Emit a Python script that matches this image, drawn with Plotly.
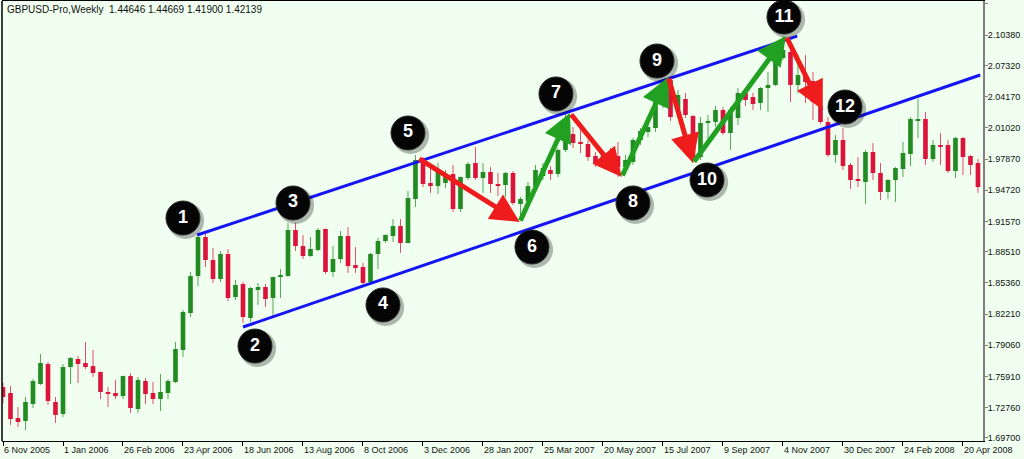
import plotly.graph_objects as go

# ---------------- data (weekly GBPUSD, week index 0 = 6 Nov 2005) ----------------
week = list(range(131))

open_ = [1.7484, 1.7424, 1.7171, 1.7141, 1.7313, 1.7515, 1.7717, 1.7333, 1.7212, 1.7686,
         1.7767, 1.7727, 1.7696, 1.7636, 1.7434, 1.7424, 1.7393, 1.7595, 1.7262, 1.7545,
         1.7424, 1.7363, 1.7424, 1.7535, 1.7858, 1.8232, 1.8605, 1.8999, 1.8767, 1.8575,
         1.8828, 1.8393, 1.8525, 1.8181, 1.8464, 1.8494, 1.8383, 1.8595, 1.8605, 1.9070,
         1.8908, 1.8807, 1.8868, 1.9080, 1.8646, 1.8777, 1.9009, 1.8716, 1.8696, 1.8545,
         1.8828, 1.8959, 1.9009, 1.9110, 1.8939, 1.9383, 1.9777, 1.9545, 1.9514, 1.9545,
         1.9636, 1.9282, 1.9595, 1.9747, 1.9595, 1.9656, 1.9535, 1.9525, 1.9646, 1.9333,
         1.9363, 1.9514, 1.9615, 1.9676, 1.9636, 1.9878, 2.0040, 1.9959, 1.9939, 1.9817,
         1.9747, 1.9828, 1.9817, 1.9706, 1.9757, 1.9979, 2.0060, 2.0100, 2.0343, 2.0585,
         2.0282, 2.0393, 2.0221, 1.9807, 2.0151, 2.0161, 2.0282, 2.0050, 2.0201, 2.0454,
         2.0413, 2.0353, 2.0504, 2.0535, 2.0807, 2.0868, 2.0535, 2.0636, 2.0575, 2.0322,
         2.0161, 1.9828, 1.9979, 1.9727, 1.9585, 1.9555, 1.9858, 1.9646, 1.9454, 1.9575,
         1.9686, 1.9838, 2.0181, 2.0191, 1.9787, 1.9929, 1.9929, 1.9666, 1.9999, 1.9817,
         1.9747]

high = [1.7525, 1.7494, 1.7282, 1.7383, 1.7565, 1.7818, 1.7737, 1.7383, 1.7717, 1.7787,
        1.7797, 1.7939, 1.7858, 1.7640, 1.7484, 1.7555, 1.7600, 1.7626, 1.7585, 1.7575,
        1.7535, 1.7616, 1.7565, 1.7939, 1.8262, 1.8646, 1.9020, 1.9030, 1.8888, 1.8858,
        1.8878, 1.8565, 1.8545, 1.8494, 1.8535, 1.8525, 1.8600, 1.8676, 1.9141, 1.9141,
        1.9020, 1.8999, 1.9090, 1.9085, 1.8908, 1.9060, 1.9100, 1.8898, 1.8737, 1.8838,
        1.8989, 1.9025, 1.9181, 1.9181, 1.9464, 1.9828, 1.9807, 1.9727, 1.9747, 1.9676,
        1.9727, 1.9610, 1.9757, 1.9908, 1.9747, 1.9706, 1.9646, 1.9656, 1.9666, 1.9403,
        1.9555, 1.9727, 1.9747, 1.9716, 1.9898, 2.0240, 2.0110, 2.0080, 1.9979, 1.9858,
        1.9848, 1.9898, 1.9959, 1.9828, 1.9999, 2.0100, 2.0161, 2.0413, 2.0565, 2.0625,
        2.0484, 2.0454, 2.0232, 2.0211, 2.0232, 2.0322, 2.0312, 2.0312, 2.0504, 2.0504,
        2.0454, 2.0514, 2.0666, 2.0837, 2.1029, 2.0888, 2.0837, 2.0837, 2.0666, 2.0343,
        2.0211, 2.0030, 2.0100, 1.9747, 1.9807, 1.9878, 1.9949, 1.9747, 1.9585, 1.9706,
        1.9959, 2.0211, 2.0393, 2.0262, 1.9979, 2.0050, 1.9979, 2.0009, 2.0009, 1.9828,
        1.9787]

low = [1.7323, 1.7101, 1.7080, 1.7050, 1.7272, 1.7505, 1.7303, 1.7121, 1.7181, 1.7515,
       1.7525, 1.7666, 1.7585, 1.7363, 1.7282, 1.7363, 1.7363, 1.7222, 1.7222, 1.7313,
       1.7313, 1.7242, 1.7363, 1.7525, 1.7787, 1.8191, 1.8504, 1.8696, 1.8535, 1.8545,
       1.8353, 1.8363, 1.8131, 1.8141, 1.8313, 1.8292, 1.8191, 1.8383, 1.8600, 1.8858,
       1.8777, 1.8800, 1.8858, 1.8626, 1.8595, 1.8737, 1.8636, 1.8636, 1.8515, 1.8525,
       1.8676, 1.8939, 1.8949, 1.8838, 1.8935, 1.9302, 1.9504, 1.9444, 1.9434, 1.9494,
       1.9252, 1.9252, 1.9575, 1.9575, 1.9444, 1.9444, 1.9413, 1.9403, 1.9323, 1.9161,
       1.9323, 1.9474, 1.9575, 1.9575, 1.9605, 1.9858, 1.9898, 1.9848, 1.9767, 1.9706,
       1.9706, 1.9716, 1.9605, 1.9656, 1.9727, 1.9929, 2.0009, 2.0060, 2.0302, 2.0171,
       2.0232, 2.0201, 1.9747, 1.9777, 1.9979, 2.0110, 2.0030, 1.9878, 2.0131, 2.0322,
       2.0282, 2.0282, 2.0262, 2.0525, 2.0787, 2.0363, 2.0454, 2.0353, 2.0181, 2.0141,
       1.9807, 1.9747, 1.9676, 1.9484, 1.9504, 1.9333, 1.9575, 1.9373, 1.9383, 1.9353,
       1.9605, 1.9716, 1.9999, 1.9727, 1.9757, 1.9727, 1.9646, 1.9595, 1.9625, 1.9625,
       1.9444]

close = [1.7383, 1.7161, 1.7131, 1.7333, 1.7545, 1.7727, 1.7343, 1.7202, 1.7686, 1.7777,
         1.7717, 1.7686, 1.7626, 1.7434, 1.7414, 1.7393, 1.7595, 1.7272, 1.7555, 1.7414,
         1.7363, 1.7434, 1.7545, 1.7868, 1.8242, 1.8605, 1.8999, 1.8767, 1.8575, 1.8828,
         1.8383, 1.8515, 1.8191, 1.8484, 1.8494, 1.8373, 1.8595, 1.8616, 1.9070, 1.8908,
         1.8807, 1.8878, 1.9070, 1.8646, 1.8777, 1.9009, 1.8706, 1.8696, 1.8535, 1.8828,
         1.8959, 1.9020, 1.9110, 1.8939, 1.9393, 1.9777, 1.9535, 1.9514, 1.9656, 1.9605,
         1.9282, 1.9605, 1.9737, 1.9595, 1.9656, 1.9535, 1.9514, 1.9646, 1.9343, 1.9383,
         1.9514, 1.9676, 1.9696, 1.9636, 1.9878, 2.0050, 1.9949, 1.9939, 1.9807, 1.9747,
         1.9828, 1.9807, 1.9706, 1.9777, 1.9979, 2.0070, 2.0110, 2.0383, 2.0535, 2.0211,
         2.0434, 2.0232, 1.9807, 2.0151, 2.0171, 2.0282, 2.0050, 2.0282, 2.0454, 2.0383,
         2.0343, 2.0504, 2.0535, 2.0807, 2.0888, 2.0535, 2.0636, 2.0565, 2.0363, 2.0161,
         1.9828, 1.9979, 1.9716, 1.9575, 1.9565, 1.9858, 1.9646, 1.9454, 1.9575, 1.9696,
         1.9848, 2.0191, 2.0191, 1.9787, 1.9929, 1.9919, 1.9666, 1.9999, 1.9807, 1.9727,
         1.9504]

# x-axis tick labels (every 8 weeks)
tick_weeks = [0, 8, 16, 24, 32, 40, 48, 56, 64, 72, 80, 88, 96, 104, 112, 120, 128]
tick_text = ["6 Nov 2005", "1 Jan 2006", "26 Feb 2006", "23 Apr 2006", "18 Jun 2006",
             "13 Aug 2006", "8 Oct 2006", "3 Dec 2006", "28 Jan 2007", "25 Mar 2007",
             "20 May 2007", "15 Jul 2007", "9 Sep 2007", "4 Nov 2007", "30 Dec 2007",
             "24 Feb 2008", "20 Apr 2008"]

# y-axis tick labels
price_ticks = [2.13530, 2.10380, 2.07320, 2.04170, 2.01020, 1.97870, 1.94720, 1.91570,
               1.88510, 1.85360, 1.82210, 1.79060, 1.75910, 1.72760, 1.69700]

# channel lines: (week, price) endpoints
upper_channel = [(25.9, 1.9020), (105.9, 2.1029)]
lower_channel = [(32.0, 1.8090), (130.3, 2.0636)]

# swing pivots 5..12 (week, price)
pivots = [(55.3, 1.9797), (68.9, 1.9151), (75.6, 2.0252), (82.5, 1.9605),
          (88.7, 2.0615), (92.0, 1.9747), (104.4, 2.1029), (109.3, 2.0282)]

# numbered badges: label, (week, price) where the badge sits
badge_labels = ["1", "2", "3", "4", "5", "6", "7", "8", "9", "10", "11", "12"]
badge_pos = [(24.0, 1.9191), (33.6, 1.7898), (38.67, 1.9343), (50.67, 1.8313),
             (54.0, 2.0050), (70.53, 1.8898), (73.73, 2.0444), (84.0, 1.9343),
             (87.2, 2.0777), (93.87, 1.9575), (104.13, 2.1221), (112.27, 2.0312)]

header = "GBPUSD-Pro,Weekly&nbsp; 1.44646 1.44669 1.41900 1.42139"

# ---------------- styling ----------------
BG = "#F0FFF0"
GREEN = "#228B22"
RED = "#DC143C"
GREEN_WICK = "rgba(34,139,34,0.75)"
RED_WICK = "rgba(220,20,60,0.75)"
FONT = "Liberation Sans"

fig = go.Figure()

up = [i for i in week if close[i] >= open_[i]]
dn = [i for i in week if close[i] < open_[i]]


def wick_xy(idx):
    xs, ys = [], []
    for i in idx:
        xs += [i, i, None]
        ys += [low[i], high[i], None]
    return xs, ys


for idx, col in ((up, GREEN_WICK), (dn, RED_WICK)):
    xs, ys = wick_xy(idx)
    fig.add_trace(go.Scatter(x=xs, y=ys, mode="lines", line=dict(color=col, width=1),
                             hoverinfo="skip", showlegend=False))

for idx, col in ((up, GREEN), (dn, RED)):
    fig.add_trace(go.Bar(
        x=idx,
        y=[max(abs(close[i] - open_[i]), 0.0012) for i in idx],
        base=[min(close[i], open_[i]) - (0.0006 if abs(close[i] - open_[i]) < 0.0012 else 0) for i in idx],
        width=0.62, marker=dict(color=col, line=dict(width=0)),
        showlegend=False, hoverinfo="skip"))

# channel lines
for ch in (upper_channel, lower_channel):
    fig.add_trace(go.Scatter(x=[p[0] for p in ch], y=[p[1] for p in ch], mode="lines",
                             line=dict(color="#1414F5", width=3), showlegend=False,
                             hoverinfo="skip"))

# swing arrows
annotations = []
for k in range(len(pivots) - 1):
    x0, y0 = pivots[k]
    x1, y1 = pivots[k + 1]
    col = "#21A021" if y1 > y0 else "#EE1C1C"
    annotations.append(dict(x=x1, y=y1, ax=x0, ay=y0, xref="x", yref="y",
                            axref="x", ayref="y", text="", showarrow=True,
                            arrowhead=2, arrowsize=1.15, arrowwidth=5,
                            arrowcolor=col, standoff=0, startstandoff=0))

# badges (shadow + black circle + white number)
fig.add_trace(go.Scatter(x=[p[0] + 0.35 for p in badge_pos],
                         y=[p[1] - 0.0025 for p in badge_pos], mode="markers",
                         marker=dict(size=37, color="rgba(0,0,0,0.28)"),
                         showlegend=False, hoverinfo="skip"))
fig.add_trace(go.Scatter(x=[p[0] for p in badge_pos], y=[p[1] for p in badge_pos],
                         mode="markers+text",
                         marker=dict(size=34, color="#050505",
                                     line=dict(color="#2a2a2a", width=1)),
                         text=["<b>%s</b>" % t for t in badge_labels],
                         textposition="middle center",
                         textfont=dict(color="white", size=18, family=FONT),
                         showlegend=False, hoverinfo="skip"))

annotations.append(dict(xref="paper", yref="paper", x=0, y=1, xanchor="left",
                        yanchor="top", xshift=3, yshift=-1, showarrow=False,
                        text=header, font=dict(family=FONT, size=10, color="#111111")))

fig.update_layout(
    width=1024, height=459,
    margin=dict(l=2, r=41, t=1, b=18, autoexpand=False),
    paper_bgcolor=BG, plot_bgcolor=BG,
    barmode="overlay",
    annotations=annotations,
    shapes=[dict(type="line", xref="paper", yref="paper", x0=0, x1=0, y0=0, y1=1,
                 line=dict(color="#000000", width=1.5))],
    xaxis=dict(range=[-0.133, 130.67], showgrid=False, zeroline=False,
               tickmode="array", tickvals=tick_weeks, ticktext=tick_text,
               ticks="outside", ticklen=4, tickcolor="#000000", tickangle=0,
               ticklabelposition="outside right", automargin=False,
               showline=True, linecolor="#000000", linewidth=1, mirror=True,
               tickfont=dict(family=FONT, size=9, color="#111111")),
    yaxis=dict(range=[1.6939, 2.1383], side="right", showgrid=False, zeroline=False,
               tickmode="array", tickvals=price_ticks,
               ticktext=["%.5f" % v for v in price_ticks],
               ticks="outside", ticklen=3, tickcolor="#808080", automargin=False,
               ticklabelstandoff=-2,
               showline=True, linecolor="#808080", linewidth=2,
               tickfont=dict(family=FONT, size=9, color="#111111")),
)

fig.write_html("out.html", config={"displayModeBar": False},
               post_script="document.body.style.margin='0';document.body.style.background='%s';" % BG)
